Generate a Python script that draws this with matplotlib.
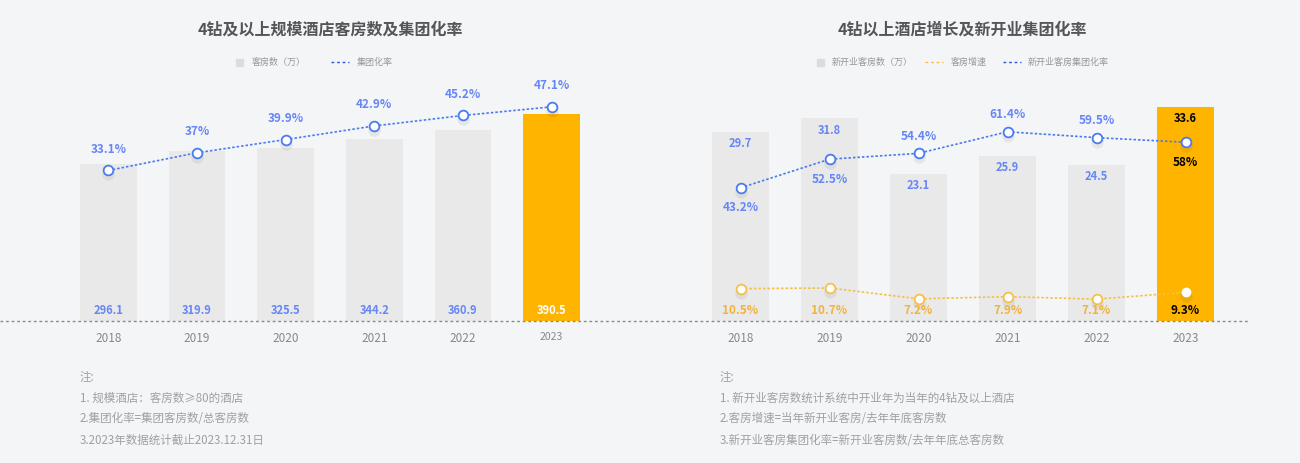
import matplotlib
matplotlib.use("Agg")
import matplotlib.pyplot as plt
from matplotlib.lines import Line2D
from matplotlib.patches import Rectangle
from matplotlib.transforms import offset_copy

plt.rcParams['font.family'] = ['Noto Sans CJK SC', 'DejaVu Sans']

years = ['2018', '2019', '2020', '2021', '2022', '2023']

# 左图：客房数（万）及集团化率
rooms = [296.1, 319.9, 325.5, 344.2, 360.9, 390.5]
group_rate = [33.1, 37, 39.9, 42.9, 45.2, 47.1]

# 右图：新开业客房数（万）、客房增速、新开业客房集团化率
new_rooms = [29.7, 31.8, 23.1, 25.9, 24.5, 33.6]
growth = [10.5, 10.7, 7.2, 7.9, 7.1, 9.3]
new_group_rate = [43.2, 52.5, 54.4, 61.4, 59.5, 58]
new_rate_above = [False, False, True, True, True, False]

notes_left = ['注:', '1. 规模酒店：客房数≥80的酒店', '2.集团化率=集团客房数/总客房数',
              '3.2023年数据统计截止2023.12.31日']
notes_right = ['注:', '1. 新开业客房数统计系统中开业年为当年的4钻及以上酒店',
               '2.客房增速=当年新开业客房/去年年底客房数',
               '3.新开业客房集团化率=新开业客房数/去年年底总客房数']

W, H = 1300, 463
BG = '#f4f5f7'
GREY_BAR = '#e9e9e9'
HILITE = '#ffb400'
BLUE = '#4a7bef'
BLUE_TXT = '#6686f6'
ORANGE = '#f5c04a'
ORANGE_TXT = '#f2b33d'
TXT = '#999999'


def px_rect(x0, top, w, h):
    return [x0 / W, 1 - (top + h) / H, w / W, h / H]


def fx(x):
    return x / W


def fy(y):
    return 1 - y / H


fig = plt.figure(figsize=(W / 100, H / 100), dpi=100, facecolor=BG)


def style_axes(ax, small_last):
    ax.set_facecolor('none')
    for s in ax.spines.values():
        s.set_visible(False)
    ax.set_xlim(-0.5, 5.5)
    ax.set_yticks([])
    ax.set_xticks(range(len(years)))
    ax.set_xticklabels(years, color='#888888', fontsize=8.5)
    ax.tick_params(axis='x', length=0, pad=8)
    if small_last:
        ax.get_xticklabels()[-1].set_fontsize(7.5)


def twin(ax, top):
    a2 = ax.twinx()
    a2.set_ylim(0, top)
    a2.set_yticks([])
    for s in a2.spines.values():
        s.set_visible(False)
    return a2


def shadow(ax, xs, ys):
    tr = offset_copy(ax.transData, fig=fig, x=0, y=-4, units='dots')
    ax.plot(xs, ys, ls='none', marker='o', ms=9, mfc='#000000', mec='none',
            alpha=0.06, transform=tr, zorder=2)


# ---------- left chart ----------
axL = fig.add_axes(px_rect(64, 80, 532, 241))
style_axes(axL, True)
axL.set_ylim(0, 454.7)
colorsL = [GREY_BAR] * 5 + [HILITE]
axL.bar(range(6), rooms, width=0.64, color=colorsL, zorder=1)
for i, v in enumerate(rooms):
    axL.annotate(f'{v}', (i, 0), xytext=(0, 10), textcoords='offset pixels',
                 ha='center', va='center', fontsize=8, fontweight='bold',
                 color='white' if i == 5 else BLUE_TXT, annotation_clip=False)

axL2 = twin(axL, 53)
shadow(axL2, range(6), group_rate)
axL2.plot(range(6), group_rate, color=BLUE, lw=1.2, ls=(0, (1.5, 1.2)),
          marker='o', ms=7, mfc='white', mec=BLUE, mew=1.3, zorder=3)
for i, v in enumerate(group_rate):
    axL2.annotate(f'{v}%', (i, v), xytext=(0, 21), textcoords='offset pixels',
                  ha='center', va='center', fontsize=8.5, fontweight='bold',
                  color=BLUE_TXT, annotation_clip=False)

# ---------- right chart ----------
axR = fig.add_axes(px_rect(696, 80, 534, 241))
style_axes(axR, False)
axR.set_ylim(0, 37.8)
colorsR = [GREY_BAR] * 5 + [HILITE]
axR.bar(range(6), new_rooms, width=0.64, color=colorsR, zorder=1)
for i, v in enumerate(new_rooms):
    axR.annotate(f'{v}', (i, v), xytext=(0, -12), textcoords='offset pixels',
                 ha='center', va='center', fontsize=8, fontweight='bold',
                 color='black' if i == 5 else BLUE_TXT, annotation_clip=False)

axR2 = twin(axR, 78.2)
shadow(axR2, range(6), new_group_rate)
axR2.plot(range(6), new_group_rate, color=BLUE, lw=1.2, ls=(0, (1.5, 1.2)),
          marker='o', ms=7, mfc='white', mec=BLUE, mew=1.3, zorder=3)
for i, v in enumerate(new_group_rate):
    off = 17 if new_rate_above[i] else -20
    axR2.annotate(f'{v}%', (i, v), xytext=(0, off), textcoords='offset pixels',
                  ha='center', va='center', fontsize=8.5, fontweight='bold',
                  color='black' if i == 5 else BLUE_TXT, annotation_clip=False)

shadow(axR2, range(6), growth)
axR2.plot(range(6), growth, color=ORANGE, lw=1.2, ls=(0, (1.5, 1.2)), zorder=3)
axR2.plot(range(5), growth[:5], ls='none', marker='o', ms=7, mfc='white',
          mec=ORANGE, mew=1.3, zorder=4)
axR2.plot([5], growth[5:], ls='none', marker='o', ms=6, mfc='white',
          mec='white', zorder=4)
for i, v in enumerate(growth):
    axR2.annotate(f'{v}%', (i, 0), xytext=(0, 10), textcoords='offset pixels',
                  ha='center', va='center', fontsize=8.5, fontweight='bold',
                  color='black' if i == 5 else ORANGE_TXT, annotation_clip=False)

# baseline
fig.add_artist(Line2D([0, fx(1248)], [fy(321), fy(321)], color='#8a8a8a',
                      lw=1, ls=(0, (2, 2)), transform=fig.transFigure))

# titles
fig.text(fx(330), fy(30), '4钻及以上规模酒店客房数及集团化率', ha='center',
         va='center', fontsize=11.5, fontweight='bold', color='#555555')
fig.text(fx(962), fy(30), '4钻以上酒店增长及新开业集团化率', ha='center',
         va='center', fontsize=11.5, fontweight='bold', color='#555555')


# legends
def legend_square(x, y):
    fig.add_artist(Rectangle((fx(x - 3.5), fy(y + 3.5)), 7 / W, 7 / H,
                             color='#dcdcdc', transform=fig.transFigure))


def legend_line(x0, x1, y, c):
    fig.add_artist(Line2D([fx(x0), fx(x1)], [fy(y), fy(y)], color=c, lw=1,
                          ls=(0, (2, 2)), transform=fig.transFigure))


def legend_text(x, y, s):
    fig.text(fx(x), fy(y), s, ha='left', va='center', fontsize=6.5, color=TXT)


legend_square(240, 62)
legend_text(252, 62, '客房数（万）')
legend_line(331, 349, 62, '#3355cc')
legend_text(357, 62, '集团化率')

legend_square(820, 62)
legend_text(832, 62, '新开业客房数（万）')
legend_line(925, 943, 62, ORANGE)
legend_text(951, 62, '客房增速')
legend_line(1003, 1021, 62, '#3355cc')
legend_text(1028, 62, '新开业客房集团化率')

# notes
for k, s in enumerate(notes_left):
    fig.text(fx(80), fy(377 + 21 * k), s, ha='left', va='center',
             fontsize=8.3, color='#a0a0a0')
for k, s in enumerate(notes_right):
    fig.text(fx(720), fy(377 + 21 * k), s, ha='left', va='center',
             fontsize=8.3, color='#a0a0a0')

fig.savefig('out.png', dpi=100, facecolor=BG)
